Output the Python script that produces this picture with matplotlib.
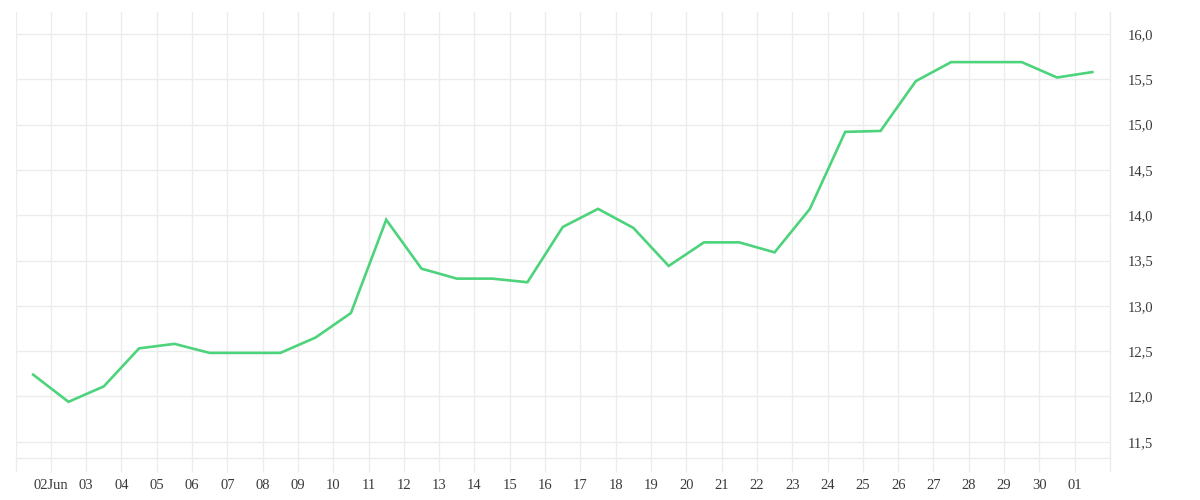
import matplotlib
matplotlib.use("Agg")
import matplotlib.pyplot as plt
import matplotlib.dates as mdates
import pandas as pd
import numpy as np

# ---- data ----
dates = pd.date_range("2023-06-01 12:00", periods=31, freq="D")
values = [12.24, 11.94, 12.11, 12.53, 12.58, 12.48, 12.48, 12.48, 12.65, 12.92,
          13.95, 13.41, 13.30, 13.30, 13.26, 13.87, 14.07, 13.86, 13.44, 13.70,
          13.70, 13.59, 14.07, 14.92, 14.93, 15.48, 15.69, 15.69, 15.69, 15.52,
          15.58]
tick_days = pd.date_range("2023-06-01", "2023-07-02", freq="D")
y_ticks = [11.5, 12.0, 12.5, 13.0, 13.5, 14.0, 14.5, 15.0, 15.5, 16.0]

plt.rcParams['font.family'] = ['Liberation Serif', 'DejaVu Serif']

grid_c = "#ececec"
text_c = "#3a3a3a"
line_c = "#4cd37b"

fig = plt.figure(figsize=(12, 5), dpi=100)
ax = fig.add_axes([15.5 / 1200, 1 - 458 / 500, (1110 - 15.5) / 1200, (458 - 12) / 500])

ax.plot(mdates.date2num(dates), values, color=line_c, lw=1.9, solid_joinstyle="miter")

ax.set_xlim(mdates.date2num(tick_days[0]), mdates.date2num(tick_days[-1]))
ax.set_ylim(11.32, 16.243)

tick_pos = mdates.date2num(tick_days)
labels = []
for i, d in enumerate(tick_days):
    if i == 0 or i == len(tick_days) - 1:
        labels.append("")
    elif d.day == 2 and d.month == 6:
        labels.append(d.strftime("%d%b"))
    else:
        labels.append(d.strftime("%d"))
ax.set_xticks(tick_pos)
ax.set_xticklabels(labels)
ax.set_yticks(y_ticks)
ax.set_yticklabels([f"{v:.1f}".replace(".", ",") for v in y_ticks])

ax.yaxis.tick_right()
ax.tick_params(axis="y", length=0, pad=13, labelsize=10.5, labelcolor=text_c)
ax.tick_params(axis="x", length=10, width=1, color=grid_c, pad=5, labelsize=10.5, labelcolor=text_c)

ax.grid(True, color=grid_c, lw=1)
ax.set_axisbelow(True)
for side in ["top", "left"]:
    ax.spines[side].set_visible(False)
ax.spines["bottom"].set_color(grid_c)
ax.spines["right"].set_color(grid_c)
ax.spines["bottom"].set_linewidth(1)
ax.spines["right"].set_linewidth(1)

fig.savefig("out.png", dpi=100, facecolor="white")
